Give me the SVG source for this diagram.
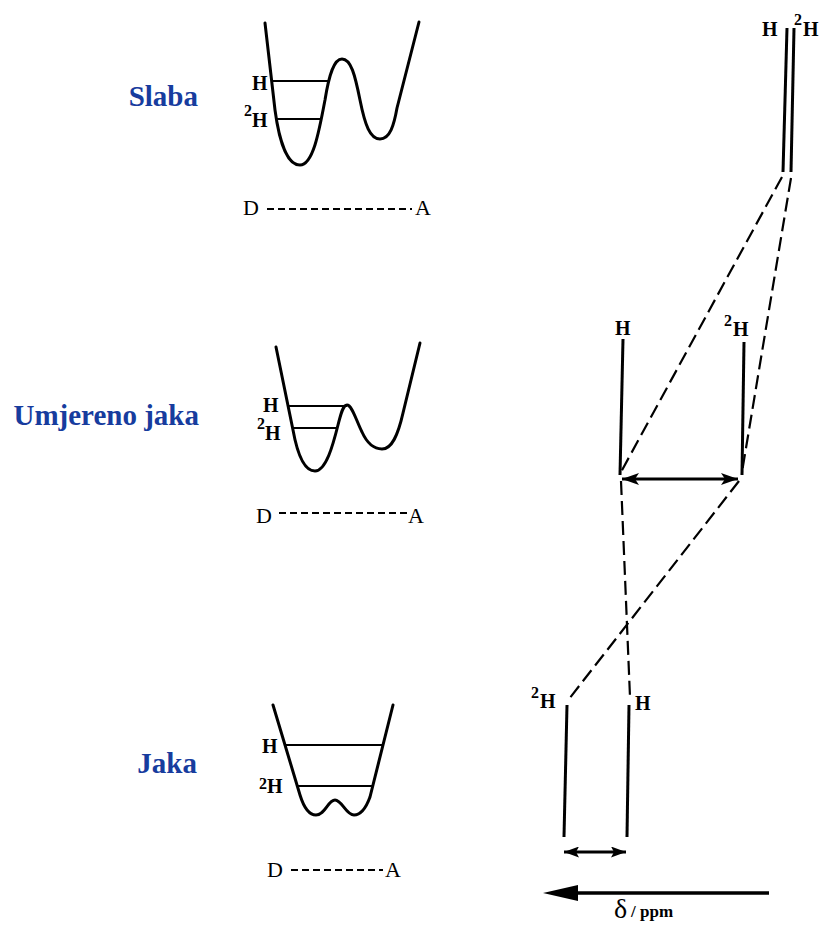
<svg xmlns="http://www.w3.org/2000/svg" width="823" height="926" viewBox="0 0 823 926">
<defs>
<style>
text{font-family:"Liberation Serif","Times New Roman","DejaVu Serif",serif;fill:#000}
.title{font-size:29px;font-weight:bold;fill:#173c9e}
.h{font-size:20px;font-weight:bold}
.sup{font-size:16px;font-weight:bold}
.da{font-size:22px}
.well{fill:none;stroke:#000;stroke-width:3;stroke-linejoin:round;stroke-linecap:round}
.lvl{fill:none;stroke:#000;stroke-width:2}
.axis{fill:none;stroke:#000;stroke-width:2;stroke-dasharray:7 4}
.peak{fill:none;stroke:#000;stroke-width:3}
.dash{fill:none;stroke:#000;stroke-width:2.2;stroke-dasharray:14 6}
.arr{fill:none;stroke:#000;stroke-width:3}
</style>
<marker id="ah" markerUnits="userSpaceOnUse" markerWidth="18" markerHeight="12" refX="17" refY="6" orient="auto-start-reverse">
<path d="M0,0 L17,6 L0,12 L4,6 Z" fill="#000"/>
</marker>
<marker id="ahs" markerUnits="userSpaceOnUse" markerWidth="16" markerHeight="11" refX="15" refY="5.5" orient="auto-start-reverse">
<path d="M0,0 L15,5.5 L0,11 L3,5.5 Z" fill="#000"/>
</marker>
</defs>
<rect width="823" height="926" fill="#fff"/>

<g id="label-slaba"><text class="title" x="198" y="106" text-anchor="end">Slaba</text></g>
<g id="label-umjereno"><text class="title" x="199" y="425" text-anchor="end">Umjereno jaka</text></g>
<g id="label-jaka"><text class="title" x="197" y="773" text-anchor="end">Jaka</text></g>

<g id="well-slaba">
<path class="well" d="M265,23 L275,110 C279,140 287,165 300,165 C313,165 319,132 325,100 C329,75 334,59 342,59 C351,59 355,75 360,100 C365,125 370,139 380,139 C390,139 394,125 397,108 L419,22"/>
<line class="lvl" x1="272" y1="81" x2="330" y2="81"/>
<line class="lvl" x1="277" y1="119" x2="321" y2="119"/>
<text class="h" x="252" y="90">H</text>
<text class="sup" x="244" y="116">2</text><text class="h" x="252" y="127">H</text>
<text class="da" x="243" y="215">D</text>
<line class="axis" x1="267" y1="209" x2="412" y2="209"/>
<text class="da" x="415" y="215">A</text>
</g>

<g id="well-umjereno">
<path class="well" d="M276,347 L293,430 C297,452 304,471 315,471 C326,471 333,445 338,425 C341,413 343,405 347,405 C352,405 356,420 362,432 C367,443 373,449 382,449 C392,449 398,435 403,413 L420,343"/>
<line class="lvl" x1="288" y1="406" x2="347" y2="406"/>
<line class="lvl" x1="292" y1="428" x2="337" y2="428"/>
<text class="h" x="263" y="412">H</text>
<text class="sup" x="257" y="429">2</text><text class="h" x="265" y="440">H</text>
<text class="da" x="256" y="523">D</text>
<line class="axis" x1="279" y1="513" x2="407" y2="513"/>
<text class="da" x="408" y="523">A</text>
</g>

<g id="well-jaka">
<path class="well" d="M273,705 L300,795 C304,808 309,815 316,815 C325,815 328,800 335,800 C342,800 346,815 354,815 C361,815 366,808 370,797 L393,705"/>
<line class="lvl" x1="285" y1="745" x2="384" y2="745"/>
<line class="lvl" x1="297" y1="786" x2="373" y2="786"/>
<text class="h" x="262" y="753">H</text>
<text class="sup" x="259" y="789">2</text><text class="h" x="267" y="793">H</text>
<text class="da" x="267" y="877">D</text>
<line class="axis" x1="291" y1="870" x2="383" y2="870"/>
<text class="da" x="385" y="877">A</text>
</g>

<g id="spectrum-slaba">
<line class="peak" x1="787" y1="28" x2="783" y2="172"/>
<line class="peak" x1="794" y1="28" x2="791" y2="172"/>
<text class="h" x="762" y="36">H</text>
<text class="sup" x="794" y="25">2</text><text class="h" x="803" y="36">H</text>
</g>

<g id="spectrum-umjereno">
<line class="peak" x1="623" y1="339" x2="620" y2="475"/>
<line class="peak" x1="744" y1="342" x2="742" y2="475"/>
<text class="h" x="615" y="335">H</text>
<text class="sup" x="724" y="326">2</text><text class="h" x="733" y="336">H</text>
</g>

<g id="spectrum-jaka">
<line class="peak" x1="567" y1="705" x2="564" y2="837"/>
<line class="peak" x1="629" y1="705" x2="627" y2="837"/>
<text class="sup" x="531" y="698">2</text><text class="h" x="540" y="708">H</text>
<text class="h" x="635" y="710">H</text>
</g>

<g id="connectors">
<line class="dash" x1="782" y1="177" x2="621" y2="472"/>
<line class="dash" x1="791" y1="178" x2="742" y2="472"/>
<line class="dash" x1="621" y1="481" x2="630" y2="697"/>
<line class="dash" x1="739" y1="481" x2="569" y2="699"/>
<line class="arr" x1="622" y1="479" x2="738" y2="479" marker-start="url(#ah)" marker-end="url(#ah)"/>
<line class="arr" x1="564" y1="852" x2="626" y2="852" stroke-width="2.5" marker-start="url(#ahs)" marker-end="url(#ahs)"/>
</g>

<g id="axis-delta">
<line x1="575" y1="893" x2="769" y2="893" stroke="#000" stroke-width="3.5"/>
<path d="M543,893 L578,885 L578,901 Z" fill="#000"/>
<text x="614" y="918" style="font-size:28px">δ</text>
<text x="631" y="917" style="font-size:17px;font-weight:bold">/ ppm</text>
</g>
</svg>
